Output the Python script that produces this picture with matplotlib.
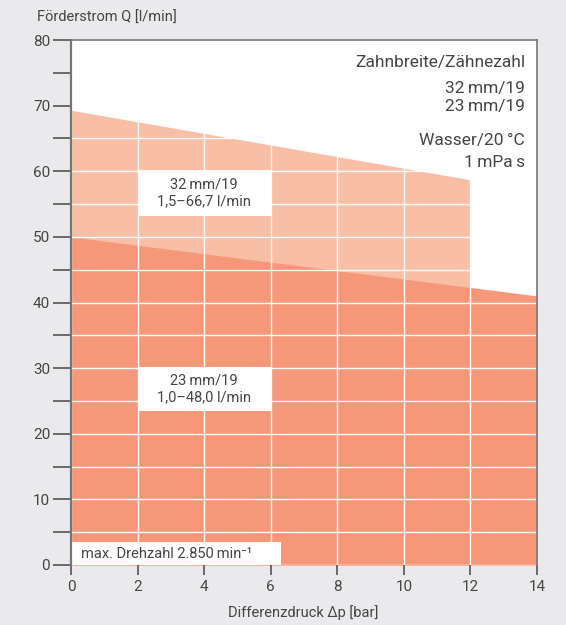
import matplotlib
matplotlib.use("Agg")
import matplotlib.pyplot as plt
from matplotlib.patches import Rectangle
from matplotlib.ticker import MultipleLocator

plt.rcParams['font.family'] = ['Roboto', 'DejaVu Sans']

# Data
dp_32 = [0, 12]
q_32 = [69.3, 58.7]
dp_23 = [0, 14]
q_23 = [50.0, 41.0]

x_ticks = [0, 2, 4, 6, 8, 10, 12, 14]
y_ticks = [0, 10, 20, 30, 40, 50, 60, 70, 80]

label_32 = "32\u2009mm/19\n1,5\u201366,7 l/min"
label_23 = "23\u2009mm/19\n1,0\u201348,0 l/min"
info_lines = ["Zahnbreite/Zähnezahl", "32\u2009mm/19", "23\u2009mm/19"]
info_lines2 = ["Wasser/20\u2009°C", "1\u2009mPa\u2009s"]

BG = "#EAEAEC"
TXT = "#454545"
LIGHT = "#F9BEA6"
DARK = "#F59779"

fig = plt.figure(figsize=(5.66, 6.25), dpi=100, facecolor=BG)
ax = fig.add_axes([71/566, 1-565/625, 466/566, 525/625])
ax.set_facecolor("white")

ax.fill_between(dp_32, q_32, 0, color=LIGHT, lw=0, zorder=1)
ax.fill_between(dp_23, q_23, 0, color=DARK, lw=0, zorder=2)

ax.set_xlim(0, 14)
ax.set_ylim(0, 80)
ax.set_xticks(x_ticks)
ax.set_yticks(y_ticks)
ax.yaxis.set_minor_locator(MultipleLocator(5))
ax.grid(True, which='both', color='white', lw=1.0, zorder=3)
ax.set_axisbelow(False)

for sp in ['left', 'top', 'right']:
    ax.spines[sp].set_color('#777777')
    ax.spines[sp].set_linewidth(1.2)
    ax.spines[sp].set_zorder(6)
ax.spines['bottom'].set_visible(False)
ax.spines['left'].set_linewidth(1.6)

ax.tick_params(axis='y', which='major', length=13, width=1.2, color='#555555',
               labelsize=11, labelcolor=TXT, pad=2)
ax.tick_params(axis='y', which='minor', length=13, width=1.2, color='#555555')
ax.tick_params(axis='x', which='major', length=7, width=1.2, color='#555555',
               labelsize=11, labelcolor=TXT, pad=4)

fig.text(37/566, 1-18/625, "Förderstrom Q [l/min]", fontsize=10.5, color=TXT,
         ha='left', va='center')
fig.text(303/566, 1-613/625, "Differenzdruck \u0394p [bar]", fontsize=10.5, color=TXT,
         ha='center', va='center')

# Label boxes
ax.add_patch(Rectangle((2, 53.2), 4, 7.0, facecolor='white', edgecolor='none', zorder=4))
ax.text(4, 56.7, label_32, ha='center', va='center', fontsize=10.5, color=TXT,
        linespacing=1.3, zorder=5)
ax.add_patch(Rectangle((2, 23.4), 4, 6.8, facecolor='white', edgecolor='none', zorder=4))
ax.text(4, 26.8, label_23, ha='center', va='center', fontsize=10.5, color=TXT,
        linespacing=1.3, zorder=5)
ax.add_patch(Rectangle((0, 0), 6.3, 3.5, facecolor='white', edgecolor='none', zorder=4))
ax.text(0.3, 1.75, "max. Drehzahl 2.850\u2009min\u207b\u00b9", ha='left', va='center',
        fontsize=10.5, color=TXT, zorder=5)

# Info text
ys = [62, 88, 107]
for s, yy in zip(info_lines, ys):
    fig.text(525/566, 1-yy/625, s, ha='right', va='center', fontsize=12.5, color=TXT)
ys2 = [140, 163]
for s, yy in zip(info_lines2, ys2):
    fig.text(525/566, 1-yy/625, s, ha='right', va='center', fontsize=12.5, color=TXT)

fig.savefig("out.png", dpi=100, facecolor=BG)
